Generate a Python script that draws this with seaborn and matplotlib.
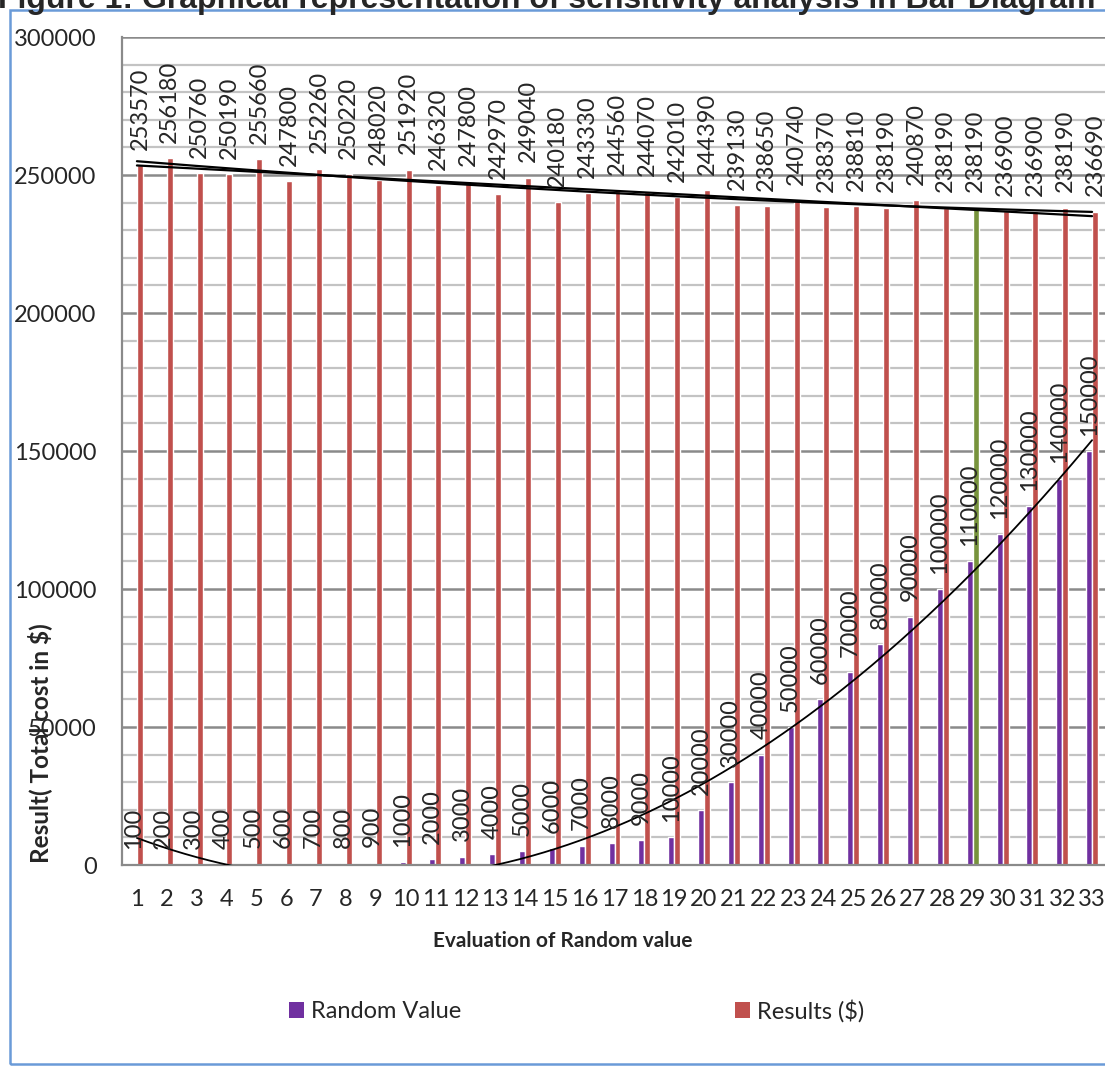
import numpy as np
import pandas as pd
import matplotlib
matplotlib.use("Agg")
import matplotlib.pyplot as plt
from matplotlib.patches import Patch, Rectangle
import seaborn as sns

# ---- data -------------------------------------------------------------
trials = list(range(1, 34))
random_value = [100, 200, 300, 400, 500, 600, 700, 800, 900, 1000,
                2000, 3000, 4000, 5000, 6000, 7000, 8000, 9000, 10000,
                20000, 30000, 40000, 50000, 60000, 70000, 80000, 90000,
                100000, 110000, 120000, 130000, 140000, 150000]
results = [253570, 256180, 250760, 250190, 255660, 247800, 252260, 250220,
           248020, 251920, 246320, 247800, 242970, 249040, 240180, 243330,
           244560, 244070, 242010, 244390, 239130, 238650, 240740, 238370,
           238810, 238190, 240870, 238190, 238190, 236900, 236900, 238190,
           236690]
series_names = ["Random Value", "Results ($)"]
highlight_trial = 29

PURPLE = "#7030A0"
RED = "#C0504D"
GREEN = "#77933C"

df = pd.DataFrame({
    "Trial": [str(t) for t in trials] * 2,
    "Series": [series_names[0]] * len(trials) + [series_names[1]] * len(trials),
    "Value": random_value + results,
})

# ---- style -------------------------------------------------------------
sns.set_style("white")
plt.rcParams["font.family"] = ["Lato", "DejaVu Sans"]
FS = 17

W, H = 1105, 1068
fig = plt.figure(figsize=(W / 100, H / 100), dpi=100)
ax = fig.add_axes([122 / W, (H - 865) / H, 985 / W, 828 / H])

sns.barplot(data=df, x="Trial", y="Value", hue="Series",
            order=[str(t) for t in trials], hue_order=series_names,
            palette=[PURPLE, RED], width=0.4, gap=0, saturation=1,
            legend=False, ax=ax, errorbar=None)

# highlighted result bar
ax.containers[1][trials.index(highlight_trial)].set_facecolor(GREEN)

ax.set_xlim(-0.5, 32.5)
ax.set_ylim(0, 300000)
ax.set_yticks(np.arange(0, 300001, 50000))
ax.set_yticks(np.arange(0, 300001, 10000), minor=True)
ax.set_yticklabels([f"{v:d}" for v in range(0, 300001, 50000)])
ax.set_axisbelow(True)
ax.grid(axis="y", which="minor", color="#C3C3C3", lw=1.6)
ax.grid(axis="y", which="major", color="#8A8A8A", lw=1.8)
ax.grid(axis="x", visible=False)
ax.set_xlabel("")
ax.set_ylabel("")

for s in ("top", "right"):
    ax.spines[s].set_visible(False)
for s in ("left", "bottom"):
    ax.spines[s].set_color("#8A8A8A")
    ax.spines[s].set_linewidth(1.6)

ax.tick_params(axis="y", which="major", length=7.2, width=1.4,
               color="#8A8A8A", pad=11, labelsize=FS)
ax.tick_params(axis="y", which="minor", length=0)
ax.tick_params(axis="x", length=0, pad=17, labelsize=FS)

# ---- trendlines --------------------------------------------------------
xt = np.array(trials, dtype=float)
xs = np.linspace(1, 33, 400)
pos = xs - 1  # categorical positions start at 0

c_rand = np.polyfit(xt, random_value, 2)
ax.plot(pos, np.polyval(c_rand, xs), color="black", lw=1.3, zorder=5)

c_lin = np.polyfit(xt, results, 1)
c_quad = np.polyfit(xt, results, 2)
ax.plot(pos, np.polyval(c_lin, xs), color="black", lw=1.6, zorder=5)
ax.plot(pos, np.polyval(c_quad, xs), color="black", lw=1.6, zorder=5)

# ---- data labels -------------------------------------------------------
for i, v in enumerate(random_value):
    ax.annotate(f"{v}", (i - 0.1, v), xytext=(0, 11), textcoords="offset points",
                rotation=90, ha="center", va="bottom", fontsize=FS, zorder=6)
for i, v in enumerate(results):
    ax.annotate(f"{v}", (i + 0.1, v), xytext=(0, 11), textcoords="offset points",
                rotation=90, ha="center", va="bottom", fontsize=FS, zorder=6)

# ---- axis titles -------------------------------------------------------
fig.text(40 / W, 1 - 743 / H, "Result( Total cost in $)", rotation=90,
         ha="center", va="center", fontsize=17.5, fontweight="bold")
fig.text(563 / W, 1 - 941 / H, "Evaluation of Random value",
         ha="center", va="center", fontsize=15, fontweight="bold")

# ---- legend ------------------------------------------------------------
handles = [Patch(facecolor=PURPLE, edgecolor="none"),
           Patch(facecolor=RED, edgecolor="none")]
fig.legend(handles, series_names, loc="center left",
           bbox_to_anchor=(289 / W, 1 - 1011 / H), bbox_transform=fig.transFigure,
           ncol=2, frameon=False, fontsize=FS, handlelength=0.62,
           handleheight=0.62, handletextpad=0.3, columnspacing=11.6,
           borderpad=0, borderaxespad=0)

# ---- chart frame and caption -------------------------------------------
fig.patches.append(Rectangle((10 / W, 4 / H), 1.2, (1058 - 4) / H,
                             transform=fig.transFigure, fill=False,
                             edgecolor="#6A9BD8", lw=1.8))
fig.text(-2 / W, 1 - 8 / H,
         "Figure 1: Graphical representation of sensitivity analysis in Bar Diagram",
         ha="left", va="baseline", fontsize=23, fontweight="bold",
         family=["Liberation Sans", "DejaVu Sans"])

fig.savefig("out.png", dpi=100, facecolor="white")
